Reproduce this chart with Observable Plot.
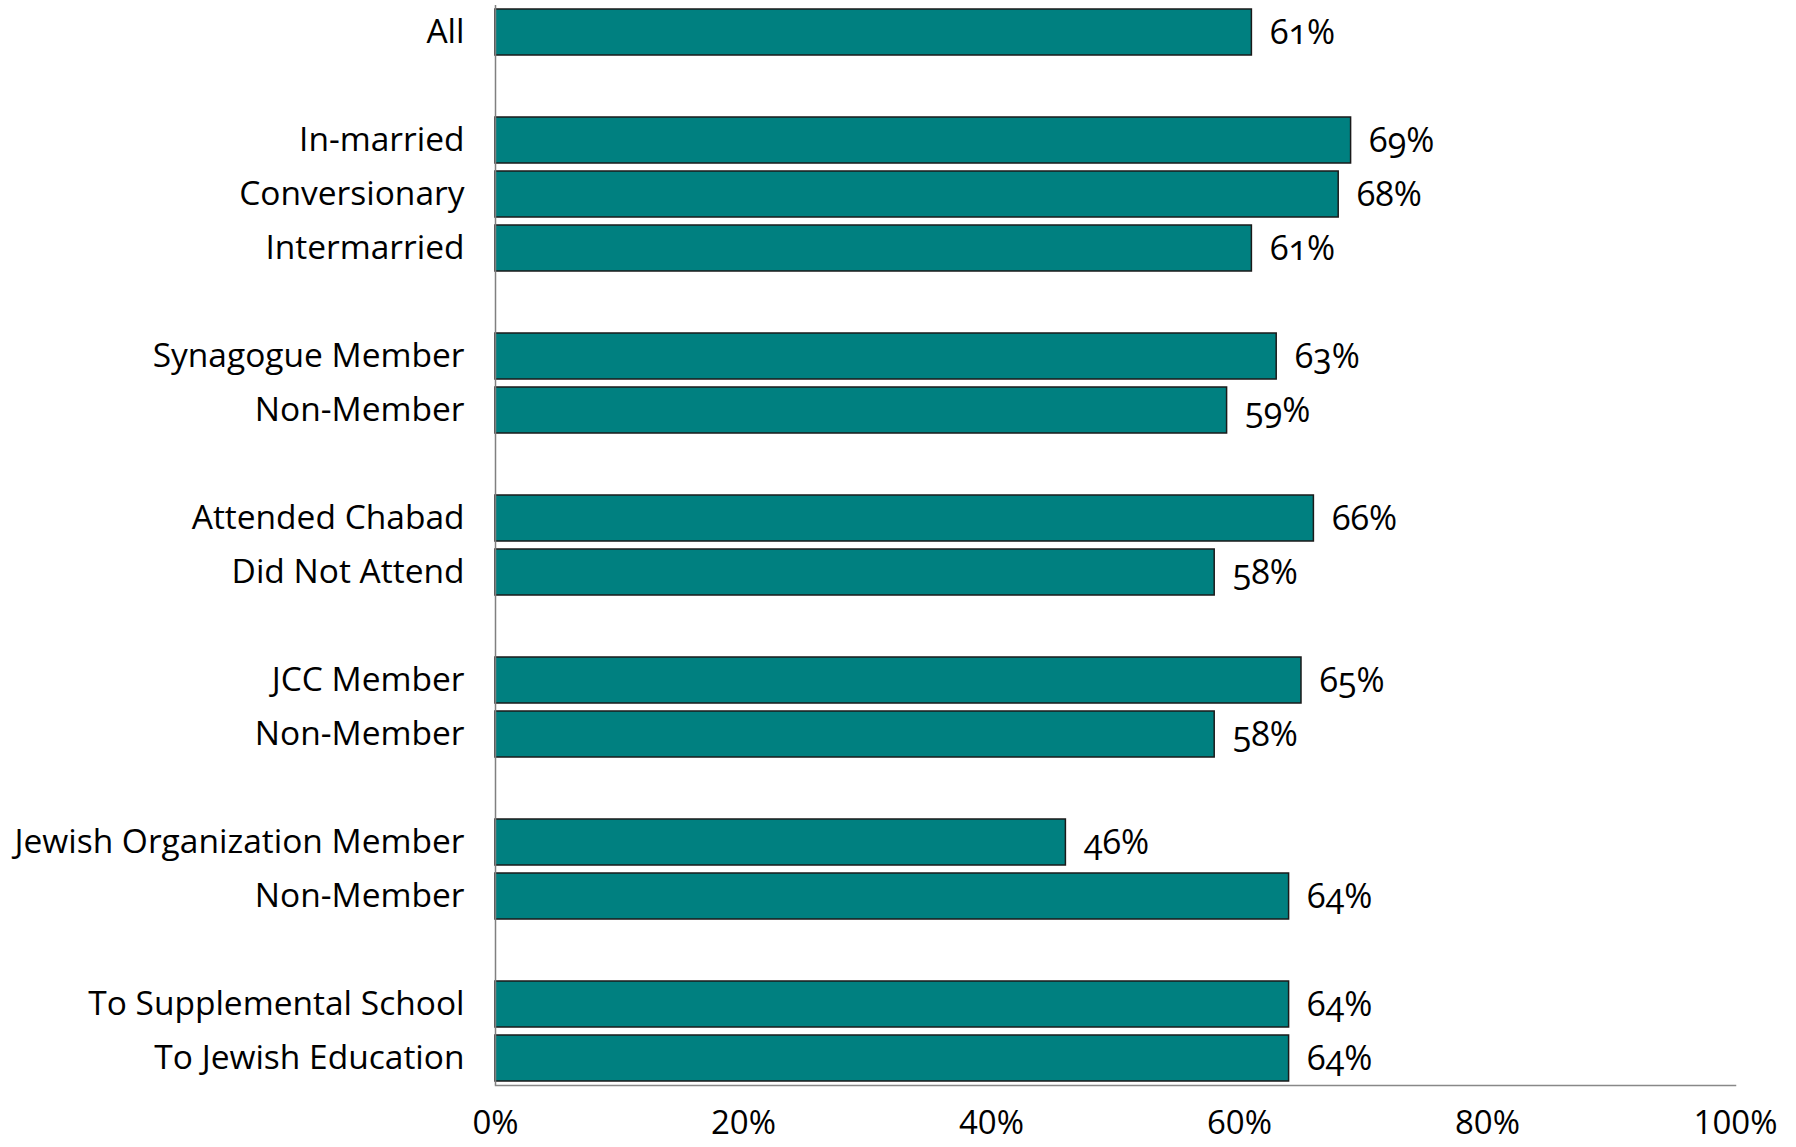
<!DOCTYPE html>
<html>
<head>
<meta charset="utf-8">
<script src="https://cdn.jsdelivr.net/npm/d3@7"></script>
<script src="https://cdn.jsdelivr.net/npm/@observablehq/plot@0.6"></script>
<style>
  html, body { margin: 0; padding: 0; background: #fff; }
  #chart svg { font-family: "Open Sans", "Noto Sans", sans-serif; font-variant-numeric: oldstyle-nums; }
  #chart svg g[aria-label="x-axis tick label"] { font-size: 33px; }
</style>
</head>
<body>
<div id="chart"></div>
<script>
// Groups of categories (a blank row separates groups)
const groupLabels = [
  ["All"],
  ["In-married", "Conversionary", "Intermarried"],
  ["Synagogue Member", "Non-Member"],
  ["Attended Chabad", "Did Not Attend"],
  ["JCC Member", "Non-Member"],
  ["Jewish Organization Member", "Non-Member"],
  ["To Supplemental School", "To Jewish Education"]
];
const groupValues = [
  [0.61],
  [0.69, 0.68, 0.61],
  [0.63, 0.59],
  [0.66, 0.58],
  [0.65, 0.58],
  [0.46, 0.64],
  [0.64, 0.64]
];
const xTicks = [0, 0.2, 0.4, 0.6, 0.8, 1.0];

// Build rows with unique keys (including spacer rows)
const rows = [];
const order = [];
const labelOf = new Map();
groupLabels.forEach((labels, g) => {
  if (g > 0) {
    const k = "gap" + g;
    order.push(k);
    labelOf.set(k, "");
  }
  labels.forEach((label, i) => {
    const k = g + "-" + i;
    order.push(k);
    labelOf.set(k, label);
    rows.push({key: k, label, value: groupValues[g][i]});
  });
});

const pct = d => Math.round(d * 100) + "%";

const chart = Plot.plot({
  width: 1796,
  height: 1147,
  marginLeft: 495,
  marginRight: 61,
  marginTop: 5,
  marginBottom: 62,
  style: {fontSize: "33.5px", color: "#000", background: "#fff"},
  x: {domain: [0, 1], ticks: xTicks, tickFormat: pct, tickSize: 0, tickPadding: 25, label: null},
  y: {domain: order, paddingInner: 0.15, paddingOuter: 0.074, tickSize: 0, tickPadding: 31, tickFormat: k => labelOf.get(k), label: null},
  marks: [
    Plot.barX(rows, {x: "value", y: "key", fill: "#008080", stroke: "#1a1a1a", strokeWidth: 1.5}),
    Plot.text(rows, {x: "value", y: "key", text: d => pct(d.value), textAnchor: "start", dx: 18, dy: 1, fontSize: 34, fill: "#000"}),
    Plot.ruleX([0], {stroke: "#808080", strokeWidth: 1.5}),
    Plot.frame({anchor: "bottom", stroke: "#888", strokeWidth: 1.5})
  ]
});
document.getElementById("chart").appendChild(chart);
</script>
</body>
</html>
